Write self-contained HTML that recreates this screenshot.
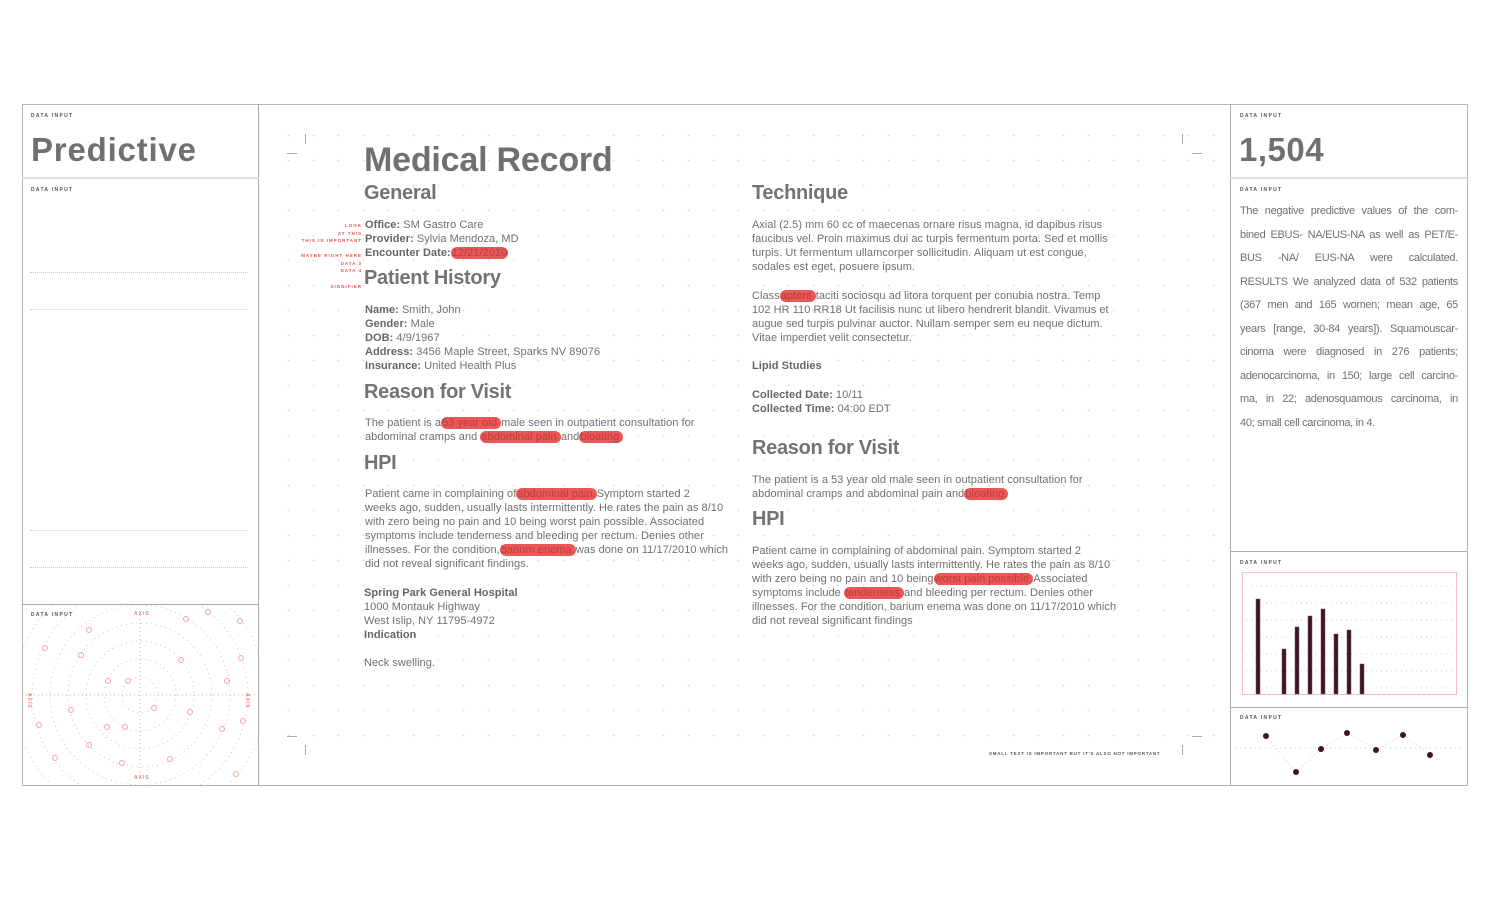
<!DOCTYPE html>
<html><head><meta charset="utf-8"><style>
*{margin:0;padding:0;box-sizing:border-box}
body{width:1500px;height:900px;background:#fff;font-family:"Liberation Sans",Arial,sans-serif;color:#707070;position:relative;overflow:hidden}
.a{position:absolute;white-space:nowrap}
.box{position:absolute;border:1px solid #b5b5b5}
.lab{position:absolute;font-size:5px;letter-spacing:1.3px;font-weight:bold;color:#555}
.t{position:absolute;font-size:11px;line-height:14px;white-space:nowrap;letter-spacing:0.05px}
.t b{color:#666}
.h{position:absolute;font-size:20px;font-weight:bold;color:#737373;white-space:nowrap;letter-spacing:-0.3px}
.hl{background:#eb5656;color:#b84040;border-radius:6px;padding:0 1px}
.grid{position:absolute;left:276px;top:123px;width:940px;height:630px;background-image:radial-gradient(circle,#f4c8cc 0.6px,transparent 1px);background-size:25px 25px;background-position:0 0}
.dl{position:absolute;border-top:1px dotted #ccc;left:30px;width:218px}
.sm{position:absolute;font-size:4.5px;letter-spacing:1px;font-weight:bold;color:#e85050;text-align:right;right:1138px;white-space:nowrap}
.rl{display:block;text-align:justify;text-align-last:justify;height:23.5px}
</style></head><body>
<div class="box" style="left:22px;top:104px;width:1446px;height:682px"></div>
<div class="a" style="left:258px;top:104px;width:1px;height:682px;background:#aaa"></div>
<div class="a" style="left:1230px;top:104px;width:1px;height:682px;background:#aaa"></div>
<div class="a" style="left:22px;top:177px;width:237px;height:2px;background:#ddd"></div>
<div class="a" style="left:22px;top:604px;width:237px;height:1px;background:#aaa"></div>
<div class="a" style="left:1230px;top:177px;width:237px;height:2px;background:#ddd"></div>
<div class="a" style="left:1230px;top:551px;width:237px;height:1px;background:#aaa"></div>
<div class="a" style="left:1230px;top:707px;width:237px;height:1px;background:#aaa"></div>

<div class="lab" style="left:31px;top:113px">DATA INPUT</div>
<div class="a" style="left:31px;top:131px;font-size:33px;font-weight:bold;color:#707070;letter-spacing:0.8px">Predictive</div>
<div class="lab" style="left:31px;top:187px">DATA INPUT</div>
<div class="dl" style="top:272px"></div>
<div class="dl" style="top:309px"></div>
<div class="dl" style="top:530px"></div>
<div class="dl" style="top:567px"></div>
<div class="lab" style="left:31px;top:612px">DATA INPUT</div>
<svg class="a" style="left:22px;top:605px" width="236" height="180">
<g fill="none" stroke="#c8c8c8" stroke-width="1" stroke-dasharray="1 4">
<circle cx="118" cy="90" r="18"/><circle cx="118" cy="90" r="36"/><circle cx="118" cy="90" r="54"/><circle cx="118" cy="90" r="72"/><circle cx="118" cy="90" r="90"/><circle cx="118" cy="90" r="108"/><circle cx="118" cy="90" r="126"/></g>
<g stroke="#f2a0a0" stroke-dasharray="1 3"><line x1="0" y1="90" x2="236" y2="90"/><line x1="118" y1="10" x2="118" y2="170"/></g>
<g fill="none" stroke="#f4a5a5">
<circle cx="164" cy="14" r="2.5"/><circle cx="186" cy="7" r="2.5"/><circle cx="218" cy="16" r="2.5"/><circle cx="67" cy="25" r="2.5"/><circle cx="23" cy="43" r="2.5"/><circle cx="59" cy="50" r="2.5"/><circle cx="159" cy="55" r="2.5"/><circle cx="219" cy="53" r="2.5"/><circle cx="86" cy="76" r="2.5"/><circle cx="106" cy="76" r="2.5"/><circle cx="205" cy="76" r="2.5"/><circle cx="49" cy="105" r="2.5"/><circle cx="132" cy="103" r="2.5"/><circle cx="168" cy="107" r="2.5"/><circle cx="17" cy="120" r="2.5"/><circle cx="85" cy="122" r="2.5"/><circle cx="103" cy="122" r="2.5"/><circle cx="200" cy="124" r="2.5"/><circle cx="221" cy="116" r="2.5"/><circle cx="67" cy="140" r="2.5"/><circle cx="33" cy="153" r="2.5"/><circle cx="100" cy="158" r="2.5"/><circle cx="148" cy="154" r="2.5"/><circle cx="214" cy="169" r="2.5"/></g>
<g font-size="5" fill="#f08080" font-family="Liberation Sans" font-weight="bold" letter-spacing="1"><text x="112" y="10">AXIS</text><text x="112" y="174">AXIS</text><text x="6" y="88" transform="rotate(90 6 88)">AXIS</text><text x="224" y="88" transform="rotate(90 224 88)">AXIS</text></g>
</svg>

<div class="lab" style="left:1240px;top:113px">DATA INPUT</div>
<div class="a" style="left:1239px;top:131px;font-size:33px;font-weight:bold;color:#707070;letter-spacing:0.5px">1,504</div>
<div class="lab" style="left:1240px;top:187px">DATA INPUT</div>
<div class="a" style="left:1240px;top:200px;width:218px;font-size:11px;line-height:23.5px;white-space:normal;letter-spacing:-0.3px">
<span class="rl">The negative predictive values of the com-</span>
<span class="rl">bined EBUS- NA/EUS-NA as well as PET/E-</span>
<span class="rl">BUS -NA/ EUS-NA were calculated.</span>
<span class="rl">RESULTS We analyzed data of 532 patients</span>
<span class="rl">(367 men and 165 women; mean age, 65</span>
<span class="rl">years [range, 30-84 years]). Squamouscar-</span>
<span class="rl">cinoma were diagnosed in 276 patients;</span>
<span class="rl">adenocarcinoma, in 150; large cell carcino-</span>
<span class="rl">ma, in 22; adenosquamous carcinoma, in</span>
<span style="display:block">40; small cell carcinoma, in 4.</span>
</div>
<div class="lab" style="left:1240px;top:560px">DATA INPUT</div>
<svg class="a" style="left:1230px;top:552px" width="237" height="155">
<rect x="12.5" y="20.5" width="214" height="122" fill="none" stroke="#f5c0c0"/>
<g stroke="#ccc" stroke-dasharray="1 4"><line x1="16" y1="34" x2="224" y2="34"/><line x1="16" y1="51" x2="224" y2="51"/><line x1="16" y1="68" x2="224" y2="68"/><line x1="16" y1="85" x2="224" y2="85"/><line x1="16" y1="102" x2="224" y2="102"/><line x1="16" y1="119" x2="224" y2="119"/><line x1="16" y1="136" x2="224" y2="136"/></g>
<g fill="#3d1428" stroke="#7a4a5a" stroke-width="0.5"><rect x="26" y="47" width="4" height="95"/><rect x="52" y="97" width="4" height="45"/><rect x="65" y="75" width="4" height="67"/><rect x="78" y="64" width="4" height="78"/><rect x="91" y="57" width="4" height="85"/><rect x="104" y="82" width="4" height="60"/><rect x="117" y="78" width="4" height="64"/><rect x="130" y="112" width="4" height="30"/></g>
</svg>
<div class="lab" style="left:1240px;top:715px">DATA INPUT</div>
<svg class="a" style="left:1230px;top:708px" width="237" height="77">
<line x1="5" y1="40" x2="232" y2="40" stroke="#ccc" stroke-dasharray="1 4"/>
<polyline points="36,28 66,64 91,41 117,25 146,42 173,27 200,47" fill="none" stroke="#ccc" stroke-dasharray="1 3"/>
<g fill="#3d1428"><circle cx="36" cy="28" r="3"/><circle cx="66" cy="64" r="3"/><circle cx="91" cy="41" r="3"/><circle cx="117" cy="25" r="3"/><circle cx="146" cy="42" r="3"/><circle cx="173" cy="27" r="3"/><circle cx="200" cy="47" r="3"/></g>
</svg>

<div class="grid"></div>
<div class="a" style="left:305px;top:134px;width:1px;height:10px;background:#aaa"></div>
<div class="a" style="left:287px;top:153px;width:10px;height:1px;background:#aaa"></div>
<div class="a" style="left:1182px;top:134px;width:1px;height:10px;background:#aaa"></div>
<div class="a" style="left:1192px;top:153px;width:10px;height:1px;background:#aaa"></div>
<div class="a" style="left:305px;top:745px;width:1px;height:10px;background:#aaa"></div>
<div class="a" style="left:287px;top:736px;width:10px;height:1px;background:#aaa"></div>
<div class="a" style="left:1182px;top:745px;width:1px;height:10px;background:#aaa"></div>
<div class="a" style="left:1192px;top:736px;width:10px;height:1px;background:#aaa"></div>
<div class="lab" style="left:989px;top:751px;font-size:4.5px;letter-spacing:0.75px">SMALL TEXT IS IMPORTANT BUT IT'S ALSO NOT IMPORTANT</div>

<div class="a" style="left:364px;top:141px;font-size:34px;font-weight:bold;color:#707070;letter-spacing:-0.2px">Medical Record</div>
<div class="h" style="left:364px;top:182px">General</div>
<div class="sm" style="top:223px">LOOK</div>
<div class="sm" style="top:231px">AT THIS</div>
<div class="sm" style="top:238px">THIS IS IMPORTANT</div>
<div class="sm" style="top:253px">MAYBE RIGHT HERE</div>
<div class="sm" style="top:261px">DATA 3</div>
<div class="sm" style="top:268px">DATA 4</div>
<div class="sm" style="top:284px">SIGNIFIER</div>
<div class="t" style="left:365px;top:218px"><b>Office:</b> SM Gastro Care<br><b>Provider:</b> Sylvia Mendoza, MD<br><b>Encounter Date:</b><span class="hl">12/21/2010</span></div>
<div class="h" style="left:364px;top:267px">Patient History</div>
<div class="t" style="left:365px;top:303px"><b>Name:</b> Smith, John<br><b>Gender:</b> Male<br><b>DOB:</b> 4/9/1967<br><b>Address:</b> 3456 Maple Street, Sparks NV 89076<br><b>Insurance:</b> United Health Plus</div>
<div class="h" style="left:364px;top:381px">Reason for Visit</div>
<div class="t" style="left:365px;top:416px">The patient is a<span class="hl">53 year old </span>male seen in outpatient consultation for<br>abdominal cramps and <span class="hl">abdominal pain </span>and<span class="hl">bloating.</span></div>
<div class="h" style="left:364px;top:452px">HPI</div>
<div class="t" style="left:365px;top:487px">Patient came in complaining of<span class="hl">abdominal pain.</span>Symptom started 2<br>weeks ago, sudden, usually lasts intermittently. He rates the pain as 8/10<br>with zero being no pain and 10 being worst pain possible. Associated<br>symptoms include tenderness and bleeding per rectum. Denies other<br>illnesses. For the condition,<span class="hl">barium enema </span>was done on 11/17/2010 which<br>did not reveal significant findings.</div>
<div class="t" style="left:364px;top:586px"><b>Spring Park General Hospital</b><br>1000 Montauk Highway<br>West Islip, NY 11795-4972<br><b>Indication</b><br><br>Neck swelling.</div>

<div class="h" style="left:752px;top:182px">Technique</div>
<div class="t" style="left:752px;top:218px">Axial (2.5) mm 60 cc of maecenas ornare risus magna, id dapibus risus<br>faucibus vel. Proin maximus dui ac turpis fermentum porta. Sed et mollis<br>turpis. Ut fermentum ullamcorper sollicitudin. Aliquam ut est congue,<br>sodales est eget, posuere ipsum.</div>
<div class="t" style="left:752px;top:289px">Class<span class="hl">aptent </span>taciti sociosqu ad litora torquent per conubia nostra. Temp<br>102 HR 110 RR18 Ut facilisis nunc ut libero hendrerit blandit. Vivamus et<br>augue sed turpis pulvinar auctor. Nullam semper sem eu neque dictum.<br>Vitae imperdiet velit consectetur.</div>
<div class="t" style="left:752px;top:359px"><b>Lipid Studies</b></div>
<div class="t" style="left:752px;top:388px"><b>Collected Date:</b> 10/11<br><b>Collected Time:</b> 04:00 EDT</div>
<div class="h" style="left:752px;top:437px">Reason for Visit</div>
<div class="t" style="left:752px;top:473px">The patient is a 53 year old male seen in outpatient consultation for<br>abdominal cramps and abdominal pain and<span class="hl">bloating.</span></div>
<div class="h" style="left:752px;top:508px">HPI</div>
<div class="t" style="left:752px;top:544px">Patient came in complaining of abdominal pain. Symptom started 2<br>weeks ago, sudden, usually lasts intermittently. He rates the pain as 8/10<br>with zero being no pain and 10 being<span class="hl">worst pain possible.</span>Associated<br>symptoms include <span class="hl">tenderness </span>and bleeding per rectum. Denies other<br>illnesses. For the condition, barium enema was done on 11/17/2010 which<br>did not reveal significant findings</div>
</body></html>
